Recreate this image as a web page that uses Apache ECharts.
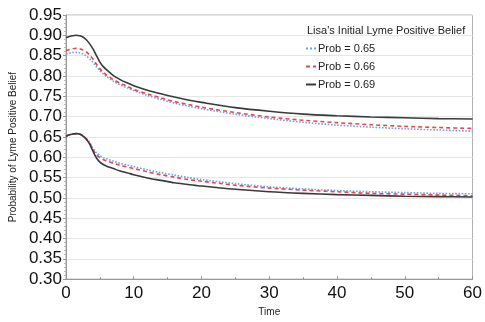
<!DOCTYPE html>
<html>
<head>
<meta charset="utf-8">
<script src="https://cdn.jsdelivr.net/npm/echarts@6/dist/echarts.min.js"></script>
<style>
  html, body { margin: 0; padding: 0; background: #fff; }
  #chart { width: 485px; height: 322px; }
</style>
</head>
<body>
<div id="chart"></div>
<script>
const times = [0, 0.5, 1, 1.5, 2, 2.5, 3, 3.5, 4, 4.5, 5, 5.5, 6, 7, 8, 9, 10, 12, 14, 16, 18, 20, 25, 30, 35, 40, 45, 50, 55, 60];

// upper group
const high65 = [0.854, 0.856, 0.858, 0.858, 0.857, 0.854, 0.849, 0.842, 0.833, 0.823, 0.813, 0.805, 0.798, 0.787, 0.778, 0.771, 0.764, 0.752, 0.742, 0.733, 0.726, 0.719, 0.706, 0.695, 0.686, 0.679, 0.674, 0.670, 0.667, 0.664];
const high66 = [0.862, 0.865, 0.867, 0.868, 0.867, 0.864, 0.859, 0.851, 0.841, 0.829, 0.818, 0.809, 0.802, 0.791, 0.782, 0.775, 0.767, 0.756, 0.746, 0.737, 0.730, 0.723, 0.710, 0.699, 0.691, 0.685, 0.680, 0.676, 0.673, 0.671];
const high69 = [0.894, 0.897, 0.899, 0.900, 0.899, 0.896, 0.889, 0.879, 0.866, 0.850, 0.834, 0.823, 0.815, 0.801, 0.791, 0.783, 0.776, 0.765, 0.756, 0.748, 0.741, 0.735, 0.722, 0.713, 0.706, 0.702, 0.699, 0.697, 0.695, 0.694];

// lower group
const low65 = [0.651, 0.655, 0.657, 0.658, 0.657, 0.653, 0.646, 0.636, 0.622, 0.611, 0.604, 0.599, 0.596, 0.590, 0.585, 0.581, 0.577, 0.569, 0.562, 0.556, 0.550, 0.545, 0.535, 0.527, 0.522, 0.518, 0.515, 0.513, 0.511, 0.510];
const low66 = [0.651, 0.655, 0.657, 0.658, 0.657, 0.653, 0.645, 0.634, 0.618, 0.606, 0.599, 0.594, 0.591, 0.585, 0.580, 0.576, 0.572, 0.564, 0.557, 0.551, 0.545, 0.541, 0.531, 0.524, 0.519, 0.515, 0.511, 0.509, 0.507, 0.505];
const low69 = [0.651, 0.655, 0.657, 0.658, 0.657, 0.652, 0.644, 0.632, 0.614, 0.598, 0.588, 0.582, 0.578, 0.572, 0.566, 0.562, 0.557, 0.549, 0.543, 0.537, 0.533, 0.529, 0.521, 0.515, 0.511, 0.508, 0.506, 0.504, 0.503, 0.502];

const seriesNames = ["Prob = 0.65", "Prob = 0.66", "Prob = 0.69"];
const legendTitle = "Lisa's Initial Lyme Positive Belief";

const chart = echarts.init(document.getElementById("chart"));
const font = "Liberation Sans, Arial, sans-serif";

const styles = [
  {color: "#6f9ef2", type: "dotted"},
  {color: "#e5484d", type: [4, 3]},
  {color: "#3a3a3a", type: "solid"}
];

const pairs = vals => times.map((t, i) => [t, vals[i]]);

function makeSeries(name, vals, st) {
  return {
    name: name,
    type: "line",
    data: pairs(vals),
    smooth: 0.3,
    showSymbol: false,
    symbol: "none",
    lineStyle: {color: st.color, width: 1.6, type: st.type},
    itemStyle: {color: st.color}
  };
}

const option = {
  animation: false,
  textStyle: {fontFamily: font},
  title: {
    text: legendTitle,
    left: 302,
    top: 20,
    textStyle: {fontSize: 11, fontWeight: "normal", color: "#222", fontFamily: font}
  },
  legend: {
    orient: "vertical",
    left: 300,
    top: 38,
    itemWidth: 10,
    itemHeight: 8,
    itemGap: 7,
    itemStyle: {opacity: 0},
    data: seriesNames,
    textStyle: {fontSize: 11, color: "#222", padding: [0, 0, 0, -3]}
  },
  grid: {
    left: 58,
    right: 5,
    top: 15,
    bottom: 36,
    show: true,
    borderColor: "#b0b0b0",
    borderWidth: 1
  },
  xAxis: {
    type: "value",
    min: 0,
    max: 60,
    interval: 10,
    name: "Time",
    nameLocation: "middle",
    nameGap: 26,
    nameTextStyle: {fontSize: 10, color: "#222"},
    axisLine: {lineStyle: {color: "#999"}},
    axisTick: {inside: true, length: 3, lineStyle: {color: "#999"}},
    minorTick: {show: true, splitNumber: 2, length: 2, lineStyle: {color: "#999"}},
    axisLabel: {fontSize: 17, color: "#111", margin: 6},
    splitLine: {show: false}
  },
  yAxis: {
    type: "value",
    min: 0.3,
    max: 0.95,
    interval: 0.05,
    name: "Probability of Lyme Positive Belief",
    nameLocation: "middle",
    nameGap: 43,
    nameTextStyle: {fontSize: 10, color: "#222"},
    axisLine: {show: true, lineStyle: {color: "#999"}},
    axisTick: {show: true, length: 3, lineStyle: {color: "#999"}},
    minorTick: {show: true, splitNumber: 5, length: 2, lineStyle: {color: "#bbb"}},
    axisLabel: {fontSize: 17, color: "#111", margin: 4, formatter: v => v.toFixed(2)},
    splitLine: {show: true, lineStyle: {color: "#e6e6e6"}}
  },
  series: [
    makeSeries(seriesNames[0], high65, styles[0]),
    makeSeries(seriesNames[1], high66, styles[1]),
    makeSeries(seriesNames[2], high69, styles[2]),
    makeSeries(seriesNames[0], low65, styles[0]),
    makeSeries(seriesNames[1], low66, styles[1]),
    makeSeries(seriesNames[2], low69, styles[2])
  ]
};

chart.setOption(option);
</script>
</body>
</html>
